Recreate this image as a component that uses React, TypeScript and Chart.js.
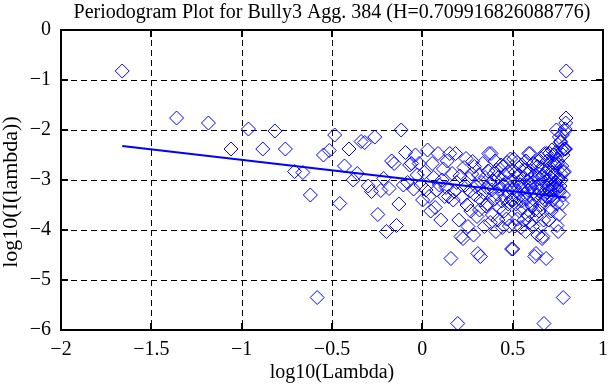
import React, { useEffect, useRef } from "react";
import { Chart, registerables } from "chart.js";

Chart.register(...registerables);

const chartTitle = "Periodogram Plot for Bully3 Agg. 384 (H=0.709916826088776)";
const xAxisTitle = "log10(Lambda)";
const yAxisTitle = "log10(I(lambda))";

const xTickValues = [-2, -1.5, -1, -0.5, 0, 0.5, 1];
const xTickLabels = ["\u22122", "\u22121.5", "\u22121", "\u22120.5", "0", "0.5", "1"];
const yTickValues = [-6, -5, -4, -3, -2, -1, 0];
const yTickLabels = ["\u22126", "\u22125", "\u22124", "\u22123", "\u22122", "\u22121", "0"];

// Periodogram frequencies lambda_k = 2*pi*k/N, k = 1..N-1
const seriesLength = 288;

// log10(I(lambda_k)) for k = 1..144; the
// periodogram is symmetric about pi, so k > 144 repeats these values.
const periodogramLowHalf = [
  -0.82, -1.76, -1.86, -2.38, -1.98, -2.38, -2.02, -2.38, -2.83, -2.85,
  -3.30, -5.35, -2.50, -2.41, -2.10, -3.47, -2.72, -2.38, -3.00, -2.87,
  -2.23, -2.25, -3.12, -3.23, -2.14, -3.69, -3.21, -2.97, -4.03, -3.17,
  -2.62, -2.67, -3.91, -3.48, -2.00, -3.10, -2.45, -3.05, -2.70, -2.67,
  -3.18, -2.50, -2.90, -2.67, -3.10, -3.40, -2.85, -3.20, -2.40, -3.33,
  -3.62, -2.67, -2.95, -3.55, -3.20, -2.47, -3.10, -3.80, -3.00, -2.78,
  -3.33, -3.15, -2.62, -3.33, -2.47, -4.57, -2.87, -3.40, -3.23, -2.47,
  -3.05, -5.87, -3.80, -2.92, -4.13, -3.35, -4.17, -2.75, -3.10, -2.57,
  -3.50, -3.93, -2.97, -3.22, -3.62, -2.88, -2.63, -4.10, -2.73, -3.30,
  -3.13, -3.73, -4.47, -2.90, -3.60, -4.53, -3.40, -3.05, -2.67, -3.25,
  -3.93, -2.95, -3.52, -3.15, -3.47, -2.82, -2.47, -3.08, -3.85, -2.47,
  -3.20, -3.70, -3.02, -2.88, -3.38, -2.62, -4.03, -2.80, -3.28, -3.80,
  -2.95, -3.12, -3.55, -3.18, -2.70, -3.42, -3.95, -2.73, -3.10, -3.62,
  -2.90, -3.35, -3.05, -3.78, -2.65, -3.22, -3.48, -2.85, -3.92, -3.15,
  -2.58, -3.40, -4.38, -3.00,
];

// Fitted regression line end points
const fitX = [-1.661, 0.797];
const fitY = [-2.32, -3.35];

const BLUE = "#0000ff";
const FONT = "'Liberation Serif', 'Times New Roman', serif";

function buildPoints() {
  const pts: { x: number; y: number }[] = [];
  for (let k = 1; k < seriesLength; k++) {
    const idx = k <= periodogramLowHalf.length ? k - 1 : seriesLength - k - 1;
    pts.push({ x: Math.log10((2 * Math.PI * k) / seriesLength), y: periodogramLowHalf[idx] });
  }
  return pts;
}

const gridPlugin = {
  id: "dashedGrid",
  beforeDatasetsDraw(chart: any) {
    const { ctx, chartArea, scales } = chart;
    const { left, right, top, bottom } = chartArea;
    ctx.save();
    ctx.strokeStyle = "#000";
    ctx.lineWidth = 1;
    ctx.setLineDash([6, 4]);
    ctx.beginPath();
    xTickValues.slice(1, -1).forEach((v) => {
      const px = Math.round(scales.x.getPixelForValue(v)) + 0.5;
      ctx.moveTo(px, top);
      ctx.lineTo(px, bottom);
    });
    yTickValues.slice(1, -1).forEach((v) => {
      const py = Math.round(scales.y.getPixelForValue(v)) + 0.5;
      ctx.moveTo(left, py);
      ctx.lineTo(right, py);
    });
    ctx.stroke();
    ctx.restore();
  },
  afterDraw(chart: any) {
    const { ctx, chartArea, scales } = chart;
    const { left, right, top, bottom } = chartArea;
    ctx.save();
    ctx.strokeStyle = "#000";
    ctx.lineWidth = 2;
    ctx.setLineDash([]);
    ctx.strokeRect(left, top, right - left, bottom - top);
    ctx.beginPath();
    const tl = 7;
    xTickValues.forEach((v) => {
      const px = Math.round(scales.x.getPixelForValue(v));
      ctx.moveTo(px, bottom);
      ctx.lineTo(px, bottom - tl);
      ctx.moveTo(px, top);
      ctx.lineTo(px, top + tl);
    });
    yTickValues.forEach((v) => {
      const py = Math.round(scales.y.getPixelForValue(v));
      ctx.moveTo(left, py);
      ctx.lineTo(left + tl, py);
      ctx.moveTo(right, py);
      ctx.lineTo(right - tl, py);
    });
    ctx.stroke();

    ctx.fillStyle = "#000";
    ctx.font = `20px ${FONT}`;
    ctx.textAlign = "center";
    ctx.textBaseline = "alphabetic";
    const cx = (left + right) / 2;
    ctx.fillText(chartTitle, cx, 18);
    ctx.fillText(xAxisTitle, cx, 378);
    ctx.font = `22px ${FONT}`;
    ctx.translate(17, 192);
    ctx.rotate(-Math.PI / 2);
    ctx.fillText(yAxisTitle, 0, 0);
    ctx.restore();
  },
};

export default function App() {
  const canvasRef = useRef<HTMLCanvasElement | null>(null);

  useEffect(() => {
    document.body.style.margin = "0";
    const canvas = canvasRef.current;
    if (!canvas) return;
    const points = buildPoints();
    const chart = new Chart(canvas, {
      type: "scatter",
      data: {
        datasets: [
          {
            label: "fit",
            data: fitX.map((x, i) => ({ x, y: fitY[i] })),
            showLine: true,
            borderColor: BLUE,
            borderWidth: 2,
            pointRadius: 0,
            fill: false,
          },
          {
            label: "periodogram",
            data: points,
            pointStyle: "rectRot",
            pointRadius: 7,
            borderColor: BLUE,
            backgroundColor: "rgba(0,0,0,0)",
            pointBorderWidth: 1,
            borderWidth: 1,
            showLine: false,
          },
        ],
      },
      options: {
        responsive: false,
        animation: false,
        events: [],
        devicePixelRatio: 1,
        layout: { padding: { top: 30, right: 3, left: 0, bottom: 0 } },
        plugins: {
          legend: { display: false },
          tooltip: { enabled: false },
          title: { display: false },
        },
        scales: {
          x: {
            type: "linear",
            min: -2,
            max: 1,
            grid: { display: false, drawTicks: false },
            border: { display: false },
            afterBuildTicks: (s: any) => {
              s.ticks = xTickValues.map((v) => ({ value: v }));
            },
            afterFit: (s: any) => {
              s.height = 55;
              s.paddingLeft = 0;
              s.paddingRight = 0;
            },
            ticks: {
              color: "#000",
              padding: 8,
              maxRotation: 0,
              autoSkip: false,
              font: { family: FONT, size: 20 },
              callback: (v: any) => {
                const i = xTickValues.findIndex((t) => Math.abs(t - Number(v)) < 1e-9);
                return i >= 0 ? xTickLabels[i] : "";
              },
            },
          },
          y: {
            type: "linear",
            min: -6,
            max: 0,
            grid: { display: false, drawTicks: false },
            border: { display: false },
            afterBuildTicks: (s: any) => {
              s.ticks = yTickValues.map((v) => ({ value: v }));
            },
            afterFit: (s: any) => {
              s.width = 61;
              s.paddingTop = 0;
              s.paddingBottom = 0;
            },
            ticks: {
              color: "#000",
              padding: 10,
              autoSkip: false,
              font: { family: FONT, size: 20 },
              callback: (v: any) => {
                const i = yTickValues.findIndex((t) => Math.abs(t - Number(v)) < 1e-9);
                return i >= 0 ? yTickLabels[i] : "";
              },
            },
          },
        },
      },
      plugins: [gridPlugin],
    });
    return () => chart.destroy();
  }, []);

  return (
    <div style={{ width: 611, height: 385, background: "#fff" }}>
      <canvas ref={canvasRef} width={611} height={385} style={{ display: "block" }} />
    </div>
  );
}
